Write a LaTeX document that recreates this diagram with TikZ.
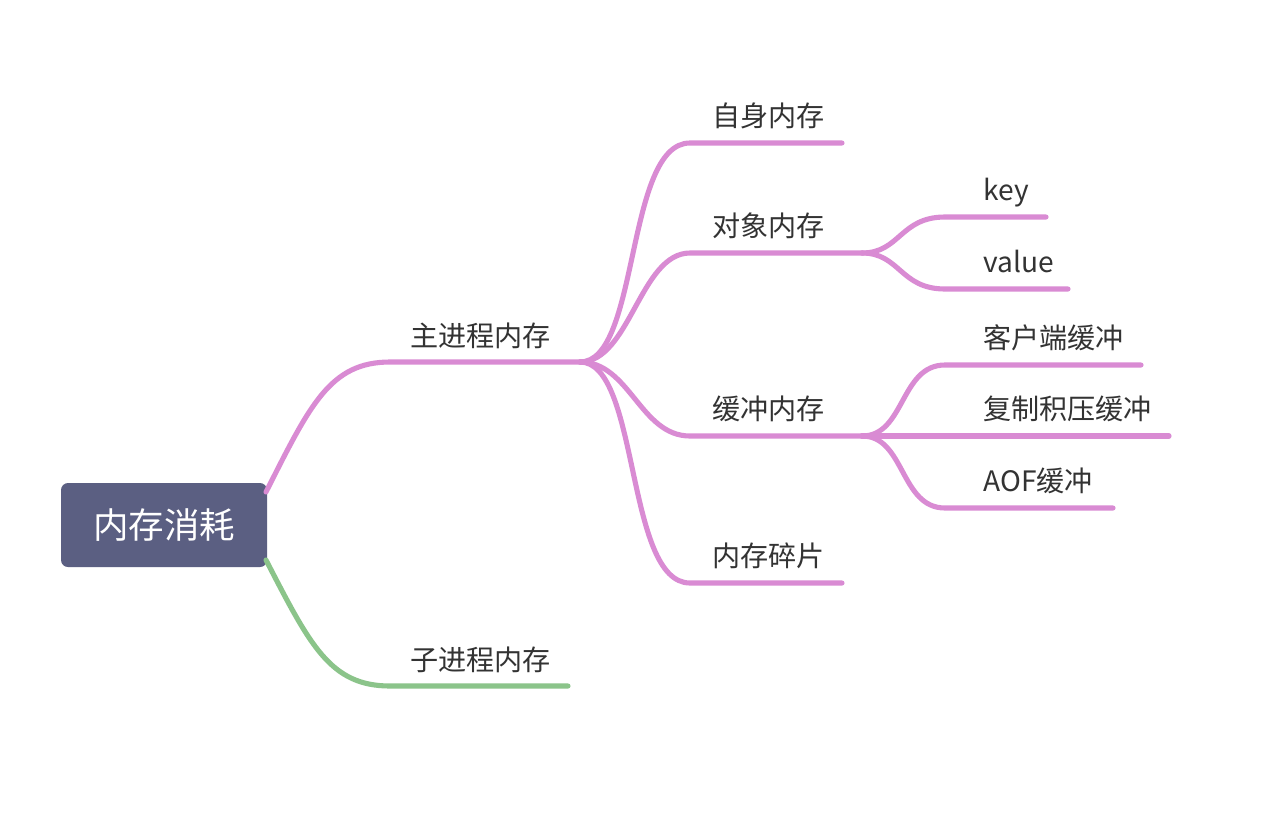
\documentclass[tikz,border=0pt]{standalone}
\usepackage{fontspec}
\setmainfont{Noto Sans CJK SC}
\definecolor{rootfill}{HTML}{5B5F82}
\definecolor{pinkline}{HTML}{D98BD3}
\definecolor{greenline}{HTML}{8BC48A}
\definecolor{txt}{HTML}{333333}
\begin{document}
\begin{tikzpicture}[x=0.02cm,y=-0.02cm,
  rootbox/.style={fill=rootfill,rounded corners=4pt,minimum width=206*0.02cm,minimum height=84*0.02cm,text=white,font=\fontsize{20.2pt}{24pt}\selectfont,inner sep=0pt},
  lbl/.style={anchor=base west,inner sep=0pt,text=txt,font=\fontsize{16pt}{19pt}\selectfont},
  pinkbr/.style={draw=pinkline,line width=2.9pt,line cap=round},
  greenbr/.style={draw=greenline,line width=2.9pt,line cap=round}]
\useasboundingbox[fill=white] (0,0) rectangle (1280,832);

% root
\node[rootbox] (root) at (164,525) {内存消耗};

% junction coordinates
\coordinate (rtop) at (266,492);
\coordinate (rbot) at (266,560);
\coordinate (mj) at (580,362);
\coordinate (oj) at (862,253);
\coordinate (bj) at (862,436);
% line ends
\coordinate (mainE) at (390,362);
\coordinate (childE) at (568,686);
\coordinate (selfE) at (842,143);
\coordinate (objS) at (690,253);
\coordinate (bufS) at (690,436);
\coordinate (fragE) at (842,583);
\coordinate (keyE) at (1046,217);
\coordinate (valE) at (1068,289);
\coordinate (cliE) at (1141,365);
\coordinate (repE) at (1169,436);
\coordinate (aofE) at (1113,508);

% labels
\node[lbl] (main) at (410,346) {主进程内存};
\node[lbl] (child) at (410,670) {子进程内存};
\node[lbl] (self) at (712,126) {自身内存};
\node[lbl] (obj) at (712,236) {对象内存};
\node[lbl] (buf) at (712,419) {缓冲内存};
\node[lbl] (frag) at (712,566) {内存碎片};
\node[lbl] (key) at (983,200) {key};
\node[lbl] (val) at (983,272) {value};
\node[lbl] (cli) at (983,348) {客户端缓冲};
\node[lbl] (rep) at (983,419) {复制积压缓冲};
\node[lbl] (aof) at (983,491) {AOF缓冲};

% branches level 1
\draw[pinkbr] (rtop) .. controls (310,405) and (330,362) .. (mainE) -- (mj);
\draw[greenbr] (rbot) .. controls (310,645) and (330,686) .. (390,686) -- (childE);

% level 2
\draw[pinkbr] (mj) .. controls (640,362) and (625,143) .. (690,143) -- (selfE);
\draw[pinkbr] (mj) .. controls (630,362) and (640,253) .. (objS) -- (oj);
\draw[pinkbr] (mj) .. controls (630,362) and (640,436) .. (bufS) -- (bj);
\draw[pinkbr] (mj) .. controls (640,362) and (625,583) .. (690,583) -- (fragE);

% level 3
\draw[pinkbr] (oj) .. controls (900,253) and (900,217) .. (945,217) -- (keyE);
\draw[pinkbr] (oj) .. controls (900,253) and (900,289) .. (945,289) -- (valE);
\draw[pinkbr] (bj) .. controls (905,436) and (900,365) .. (945,365) -- (cliE);
\draw[pinkbr] (bj) -- (repE);
\draw[pinkbr] (bj) .. controls (905,436) and (900,508) .. (945,508) -- (aofE);
\end{tikzpicture}
\end{document}
